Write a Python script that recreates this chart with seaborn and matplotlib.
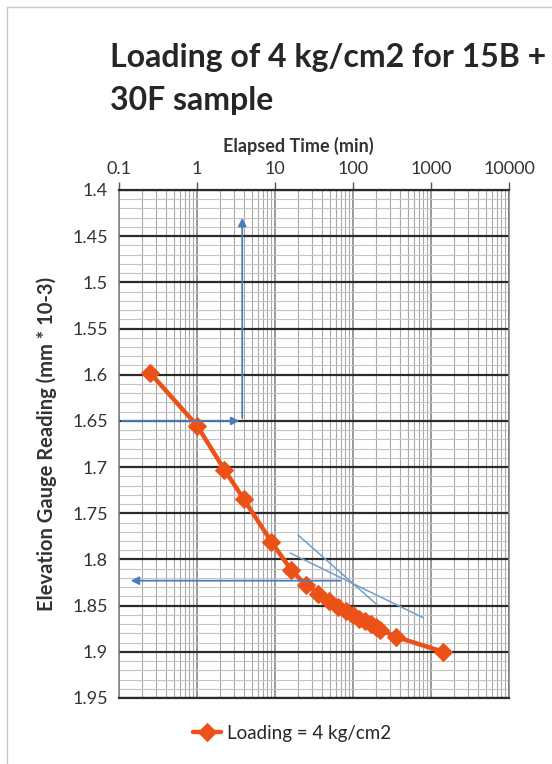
import numpy as np
import pandas as pd
import seaborn as sns
import matplotlib.pyplot as plt
from matplotlib.lines import Line2D
from matplotlib.ticker import FixedLocator, MultipleLocator, LogLocator, NullFormatter, FuncFormatter

# elapsed time (min) and dial readings for the 4 kg/cm2 load step
time_min = [0.25, 1, 2.25, 4, 9, 16, 25, 36, 49, 64, 81, 100, 121, 144, 169, 196, 225, 360, 1440]
reading = [1.598, 1.655, 1.703, 1.735, 1.781, 1.811, 1.828, 1.837, 1.845, 1.852, 1.856,
           1.860, 1.864, 1.867, 1.870, 1.873, 1.876, 1.884, 1.900]

# construction lines drawn on the chart
tangent_a_x = [19.7, 203]
tangent_a_y = [1.7735, 1.849]
tangent_b_x = [15.6, 790]
tangent_b_y = [1.793, 1.863]
t50_x = [3.8, 3.8]
t50_y = [1.65, 1.427]
d_level_y = 1.65
d100_y = 1.823
d100_x = [74.5, 0.13]

x_ticks = [0.1, 1, 10, 100, 1000, 10000]
y_ticks = [1.4, 1.45, 1.5, 1.55, 1.6, 1.65, 1.7, 1.75, 1.8, 1.85, 1.9, 1.95]

df = pd.DataFrame({"time": time_min, "reading": reading})

sns.set_style("white")
plt.rcParams['font.family'] = ['Lato', 'DejaVu Sans']

fig = plt.figure(figsize=(5.52, 7.64), dpi=100)
ax = fig.add_axes([119/552, 66/764, 390/552, 508/764])

orange = "#EC5118"
blue = "#4A7EBB"
light_blue = "#6FA0CC"

ax.set_xscale("log")
ax.set_xlim(0.1, 10000)
ax.set_ylim(1.95, 1.4)

# gridlines
ax.yaxis.set_major_locator(FixedLocator(y_ticks))
ax.yaxis.set_minor_locator(MultipleLocator(0.01))
ax.xaxis.set_major_locator(FixedLocator(x_ticks))
ax.xaxis.set_minor_locator(LogLocator(base=10, subs=np.arange(2, 10)))
ax.xaxis.set_minor_formatter(NullFormatter())
ax.grid(True, which="major", axis="y", color="#2b2b2b", lw=1.6)
ax.grid(True, which="minor", axis="y", color="#c4c4c4", lw=0.8)
ax.grid(True, which="major", axis="x", color="#7d7d7d", lw=1.1)
ax.grid(True, which="minor", axis="x", color="#a8a8a8", lw=0.8)
ax.set_axisbelow(True)

sns.lineplot(data=df, x="time", y="reading", ax=ax, color=orange, lw=3.2,
             marker="D", markersize=9, markeredgecolor=orange,
             label="Loading = 4 kg/cm2", zorder=3)

# construction lines
ax.plot(tangent_a_x, tangent_a_y, color=light_blue, lw=1.1, zorder=4)
ax.plot(tangent_b_x, tangent_b_y, color=light_blue, lw=1.1, zorder=4)
ax.annotate("", xy=(t50_x[1], t50_y[1]), xytext=(t50_x[0], t50_y[0]),
            arrowprops=dict(arrowstyle="-|>", color=blue, lw=1.3, mutation_scale=12), zorder=4)
ax.annotate("", xy=(t50_x[0], d_level_y), xytext=(0.1, d_level_y),
            arrowprops=dict(arrowstyle="-|>", color=blue, lw=1.3, mutation_scale=12), zorder=4)
ax.annotate("", xy=(d100_x[1], d100_y), xytext=(d100_x[0], d100_y),
            arrowprops=dict(arrowstyle="-|>", color=blue, lw=1.3, mutation_scale=12), zorder=4)

# axis on top, values reversed
ax.xaxis.tick_top()
ax.xaxis.set_label_position("top")
ax.xaxis.set_major_formatter(FuncFormatter(lambda v, p: f"{v:g}"))
ax.yaxis.set_major_formatter(FuncFormatter(lambda v, p: f"{v:g}"))
ax.tick_params(axis="x", which="major", direction="out", length=6, width=1, color="#555555",
               labelsize=13, labelcolor="#333333", pad=3)
ax.tick_params(axis="y", which="major", direction="out", length=6, width=1, color="#555555",
               labelsize=13, labelcolor="#333333", pad=2)
ax.tick_params(which="minor", length=0)

for side in ["top", "bottom"]:
    ax.spines[side].set_color("#2b2b2b")
    ax.spines[side].set_linewidth(1.6)
for side in ["left", "right"]:
    ax.spines[side].set_color("#7d7d7d")
    ax.spines[side].set_linewidth(1.1)

ax.set_xlabel("Elapsed Time (min)", fontsize=13, fontweight="bold", color="#333333")
ax.xaxis.set_label_coords(0.46, 1.075)
ax.set_ylabel("Elevation Gauge Reading (mm * 10-3)", fontsize=14.5, fontweight="bold", color="#333333")
ax.yaxis.set_label_coords(-0.16, 0.5)

ax.legend(loc="center", bbox_to_anchor=(292/552, 31/764), bbox_transform=fig.transFigure,
          frameon=False, fontsize=13.5, handlelength=1.5, handletextpad=0.3)

fig.text(110/552, 1 - 67/764, "Loading of 4 kg/cm2 for 15B +", fontsize=23, fontweight="bold",
         va="baseline", ha="left")
fig.text(110/552, 1 - 110/764, "30F sample", fontsize=23, fontweight="bold",
         va="baseline", ha="left")

# frame of the original chart area
fig.add_artist(Line2D([7/552, 7/552], [0, 1 - 7/764], transform=fig.transFigure, color="#c8c8c8", lw=1))
fig.add_artist(Line2D([7/552, 1], [1 - 7/764, 1 - 7/764], transform=fig.transFigure, color="#c8c8c8", lw=1))

fig.savefig("out.png", dpi=100)
